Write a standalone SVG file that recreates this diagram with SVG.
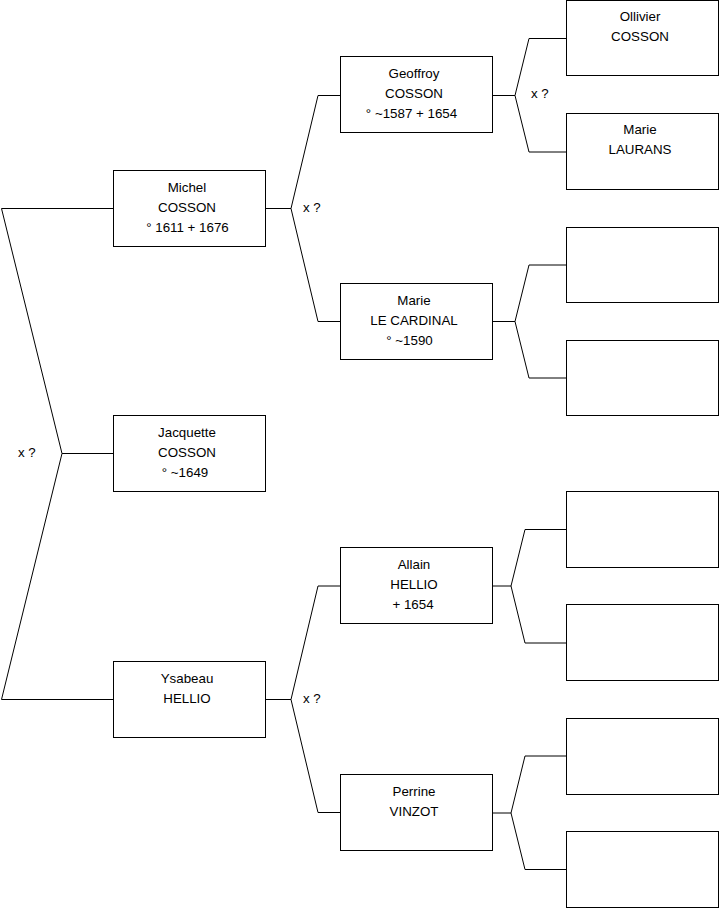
<svg xmlns="http://www.w3.org/2000/svg" width="719" height="908" viewBox="0 0 719 908">
<style>
.box{fill:#fff;stroke:#000;stroke-width:1}
.ln{fill:none;stroke:#000;stroke-width:1}
text{font-family:"Liberation Sans",Arial,sans-serif;font-size:13.33px;fill:#000}
.c{text-anchor:middle}
</style>
<rect width="719" height="908" fill="#fff"/>
<g id="connectors">
<path class="ln" d="M1.5,208.5 H113.5 M1.5,208.5 L62,453.5 L1.5,699.5 H113.5 M62,453.5 H113.5"/>
<path class="ln" d="M265.5,208.5 H291 L318,95.5 H340.5 M291,208.5 L318,321.5 H340.5"/>
<path class="ln" d="M265.5,699.5 H291 L318,586 H340.5 M291,699.5 L318,812.5 H340.5"/>
<path class="ln" d="M492.5,95.5 H515 L529,38.5 H566.5 M515,95.5 L529,152 H566.5"/>
<path class="ln" d="M492.5,321.5 H515 L529,265 H566.5 M515,321.5 L529,378 H566.5"/>
<path class="ln" d="M492.5,586 H511 L525,529.5 H566.5 M511,586 L525,643 H566.5"/>
<path class="ln" d="M492.5,813 H511 L525,756 H566.5 M511,813 L525,869.5 H566.5"/>
<text x="18" y="457">x ?</text>
<text x="303" y="212">x ?</text>
<text x="303" y="703">x ?</text>
<text x="531" y="98">x ?</text>
</g>
<g id="michel">
<rect class="box" x="113.5" y="170.5" width="152" height="76"/>
<text class="c" x="187" y="192">Michel</text>
<text class="c" x="187" y="212">COSSON</text>
<text class="c" x="187.5" y="232">° 1611 + 1676</text>
</g>
<g id="jacquette">
<rect class="box" x="113.5" y="415.5" width="152" height="76"/>
<text class="c" x="187" y="437">Jacquette</text>
<text class="c" x="187" y="457">COSSON</text>
<text class="c" x="185" y="477">° ~1649</text>
</g>
<g id="ysabeau">
<rect class="box" x="113.5" y="661.5" width="152" height="76"/>
<text class="c" x="187" y="683">Ysabeau</text>
<text class="c" x="187" y="703">HELLIO</text>
</g>
<g id="geoffroy">
<rect class="box" x="340.5" y="56.5" width="152" height="76"/>
<text class="c" x="414" y="78">Geoffroy</text>
<text class="c" x="414" y="98">COSSON</text>
<text class="c" x="411.5" y="118">° ~1587 + 1654</text>
</g>
<g id="marie-le-cardinal">
<rect class="box" x="340.5" y="283.5" width="152" height="76"/>
<text class="c" x="414" y="305">Marie</text>
<text class="c" x="414" y="325">LE CARDINAL</text>
<text class="c" x="409.5" y="345">° ~1590</text>
</g>
<g id="allain">
<rect class="box" x="340.5" y="547.5" width="152" height="76"/>
<text class="c" x="414" y="569">Allain</text>
<text class="c" x="414" y="589">HELLIO</text>
<text class="c" x="413" y="609">+ 1654</text>
</g>
<g id="perrine">
<rect class="box" x="340.5" y="774.5" width="152" height="76"/>
<text class="c" x="414" y="796">Perrine</text>
<text class="c" x="414" y="816">VINZOT</text>
</g>
<g id="ollivier">
<rect class="box" x="566.5" y="0.5" width="152" height="75"/>
<text class="c" x="640" y="21">Ollivier</text>
<text class="c" x="640" y="41">COSSON</text>
</g>
<g id="marie-laurans">
<rect class="box" x="566.5" y="113.5" width="152" height="76"/>
<text class="c" x="640" y="134">Marie</text>
<text class="c" x="640" y="154">LAURANS</text>
</g>
<g id="empty-1"><rect class="box" x="566.5" y="227.5" width="152" height="75"/></g>
<g id="empty-2"><rect class="box" x="566.5" y="340.5" width="152" height="75"/></g>
<g id="empty-3"><rect class="box" x="566.5" y="491.5" width="152" height="76"/></g>
<g id="empty-4"><rect class="box" x="566.5" y="604.5" width="152" height="76"/></g>
<g id="empty-5"><rect class="box" x="566.5" y="718.5" width="152" height="76"/></g>
<g id="empty-6"><rect class="box" x="566.5" y="831.5" width="152" height="76"/></g>
</svg>
